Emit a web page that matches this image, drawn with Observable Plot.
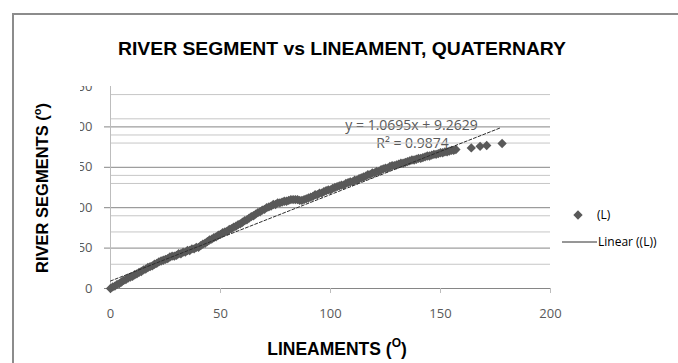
<!DOCTYPE html>
<html><head><meta charset="utf-8">
<script src="https://cdn.jsdelivr.net/npm/d3@7"></script>
<script src="https://cdn.jsdelivr.net/npm/@observablehq/plot@0.6"></script>
<style>
html,body{margin:0;padding:0;background:#fff;}
#chart{position:relative;width:678px;height:363px;overflow:hidden;}
</style></head><body><div id="chart"></div>
<script>
// ---- data ----
const lineaments = [
  0,1,2,3,4,5,6,7,8,9,10,11,12,13,14,15,16,17,18,19,
  20,21,22,23,24,25,26,27,28,29,30,31,32,33,34,35,36,37,38,39,
  40,41,42,43,44,45,46,47,48,49,50,51,52,53,54,55,56,57,58,59,
  60,61,62,63,64,65,66,67,68,69,70,71,72,73,74,75,76,77,78,79,
  80,81,82,83,84,85,86,87,88,89,90,91,92,93,94,95,96,97,98,99,
  100,101,102,103,104,105,106,107,108,109,110,111,112,113,114,115,116,117,118,119,
  120,121,122,123,124,125,126,127,128,129,130,131,132,133,134,135,136,137,138,139,
  140,141,142,143,144,145,146,147,148,149,150,151,152,153,154,155,156,157,
  164,168,171,178
];
const riverSegments = [
  0,2,3,5,6,8,10,11,13,14,15,17,18,20,21,23,24,26,27,28,
  30,31,33,34,35,36,37,39,40,40,41,43,43,45,45,47,47,49,49,51,
  51,53,55,56,58,60,61,63,64,66,67,69,70,71,73,74,76,77,79,80,
  82,84,85,87,89,90,92,94,95,97,98,100,101,102,104,104,106,106,107,108,
  108,109,110,110,110,110,109,109,110,111,112,113,114,116,116,118,118,120,121,122,
  122,124,125,126,127,128,128,130,131,132,132,134,134,136,137,138,139,141,141,143,
  143,145,145,147,148,149,149,151,152,152,153,154,155,155,156,157,158,159,159,160,
  161,161,162,163,164,164,165,166,166,167,168,168,169,169,170,171,171,172,
  174,176,177,179.5
];
const xTicks = [0, 50, 100, 150, 200];
const yTicks = [0, 50, 100, 150, 200, 250];
const yMajorGrid = [0, 50, 100, 150, 200];
const yMinorGrid = [30, 70, 90, 130, 140, 180, 190, 210, 240];
const trendX = [0, 177];
const trendY = [9.26, 198.57];
const equationText = "y = 1.0695x + 9.2629";
const r2Text = "R² = 0.9874";
const titleText = "RIVER SEGMENT vs LINEAMENT, QUATERNARY";
const xTitle = ["LINEAMENTS (", "O", ")"];
const yTitle = ["RIVER SEGMENTS (", "o", ")"];
const seriesName = "(L)";
const trendName = "Linear ((L))";

const points = lineaments.map((x, i) => ({x, y: riverSegments[i]}));
const trend = trendX.map((x, i) => ({x, y: trendY[i]}));

const W = 678, H = 363;
const tickFont = "'Open Sans', sans-serif";
const grey = "#595959";

const plot = Plot.plot({
  width: W, height: H,
  marginLeft: 110, marginRight: 128, marginTop: 86, marginBottom: 75,
  x: {domain: [0, 200], axis: null},
  y: {domain: [0, 250], axis: null},
  style: {fontFamily: tickFont, background: "transparent", overflow: "visible"},
  marks: [
    Plot.text([equationText], {text: d => d, frameAnchor: "top-left", dx: 301, dy: 34, textAnchor: "middle", fontSize: 14, fill: grey}),
    Plot.text([r2Text], {text: d => d, frameAnchor: "top-left", dx: 302, dy: 52, textAnchor: "middle", fontSize: 14, fill: grey}),
    Plot.ruleY(yMinorGrid, {stroke: "#c6c6c6", strokeWidth: 1}),
    Plot.ruleY(yMajorGrid, {stroke: "#868686", strokeWidth: 1}),
    Plot.ruleX([0], {stroke: "#bdbdbd", strokeWidth: 1}),
    Plot.axisY({ticks: yMajorGrid, tickSize: 6, tickFormat: () => "", stroke: "#868686", label: null}),
    Plot.text(yTicks, {y: d => d, text: d => String(d), frameAnchor: "left", dx: -18, textAnchor: "end", fontSize: 13, fill: grey}),
    Plot.axisX({ticks: xTicks, tickSize: 5, tickPadding: 15, fontSize: 13, fill: grey, stroke: "#bdbdbd", tickFormat: d => String(d), label: null}),
    Plot.dot(points, {x: "x", y: "y", symbol: "diamond2", r: 4.2, fill: grey, stroke: "none"}),
    Plot.line(trend, {x: "x", y: "y", stroke: "#2e2e2e", strokeWidth: 1, strokeDasharray: "3,2"})
  ]
});

document.getElementById("chart").appendChild(plot);
const svg = d3.select(plot);
const NS = "http://www.w3.org/2000/svg";

// clip the y tick labels as in the reference (they are cut off on the left and top)
const defs = svg.insert("defs", ":first-child");
defs.append("clipPath").attr("id", "yLabelClip").attr("clipPathUnits", "userSpaceOnUse")
  .append("rect").attr("x", 80).attr("y", 86).attr("width", 600).attr("height", 300);
const labelTexts = Array.from(plot.querySelectorAll("text")).filter(t => t.textContent === "250");
if (labelTexts.length) {
  const labelG = labelTexts[0].parentNode;
  const wrap = document.createElementNS(NS, "g");
  labelG.parentNode.insertBefore(wrap, labelG);
  wrap.appendChild(labelG);
  wrap.setAttribute("clip-path", "url(#yLabelClip)");
}

// outer frame
svg.append("path").attr("d", `M13,${H + 2} L13,14 L${W + 2},14`)
  .attr("fill", "none").attr("stroke", "#8c8c8c").attr("stroke-width", 2);

const boldFont = "'Liberation Sans', Arial, sans-serif";
// title
svg.append("text").attr("x", 342).attr("y", 55).attr("text-anchor", "middle")
  .attr("font-family", boldFont).attr("font-weight", "bold").attr("font-size", 19)
  .attr("textLength", 448).attr("lengthAdjust", "spacingAndGlyphs")
  .attr("fill", "#000").text(titleText);

// x title
const xt = svg.append("text").attr("x", 337).attr("y", 355).attr("text-anchor", "middle")
  .attr("font-family", boldFont).attr("font-weight", "bold").attr("font-size", 17.5).attr("fill", "#000");
xt.append("tspan").text(xTitle[0]);
xt.append("tspan").attr("font-size", 12).attr("dy", -8).text(xTitle[1]);
xt.append("tspan").attr("dy", 8).text(xTitle[2]);

// y title
const yt = svg.append("text").attr("transform", "translate(48,188) rotate(-90)").attr("text-anchor", "middle")
  .attr("font-family", boldFont).attr("font-weight", "bold").attr("font-size", 16.5).attr("fill", "#000");
yt.append("tspan").text(yTitle[0]);
yt.append("tspan").attr("font-size", 11).attr("dy", -7).text(yTitle[1]);
yt.append("tspan").attr("dy", 7).text(yTitle[2]);

// legend
const lg = svg.append("g").attr("font-family", tickFont).attr("font-size", 12).attr("fill", "#000").attr("text-anchor", "start");
lg.append("path").attr("d", d3.symbol(d3.symbolDiamond2, 4.2 * 4.2 * Math.PI)())
  .attr("transform", "translate(578,215)").attr("fill", grey);
lg.append("text").attr("x", 597).attr("y", 215).attr("dy", "0.35em").text(seriesName);
lg.append("line").attr("x1", 562).attr("x2", 597).attr("y1", 242).attr("y2", 242)
  .attr("stroke", "#2e2e2e").attr("stroke-width", 1);
lg.append("text").attr("x", 598).attr("y", 242).attr("dy", "0.35em").text(trendName);
</script>
</body></html>
